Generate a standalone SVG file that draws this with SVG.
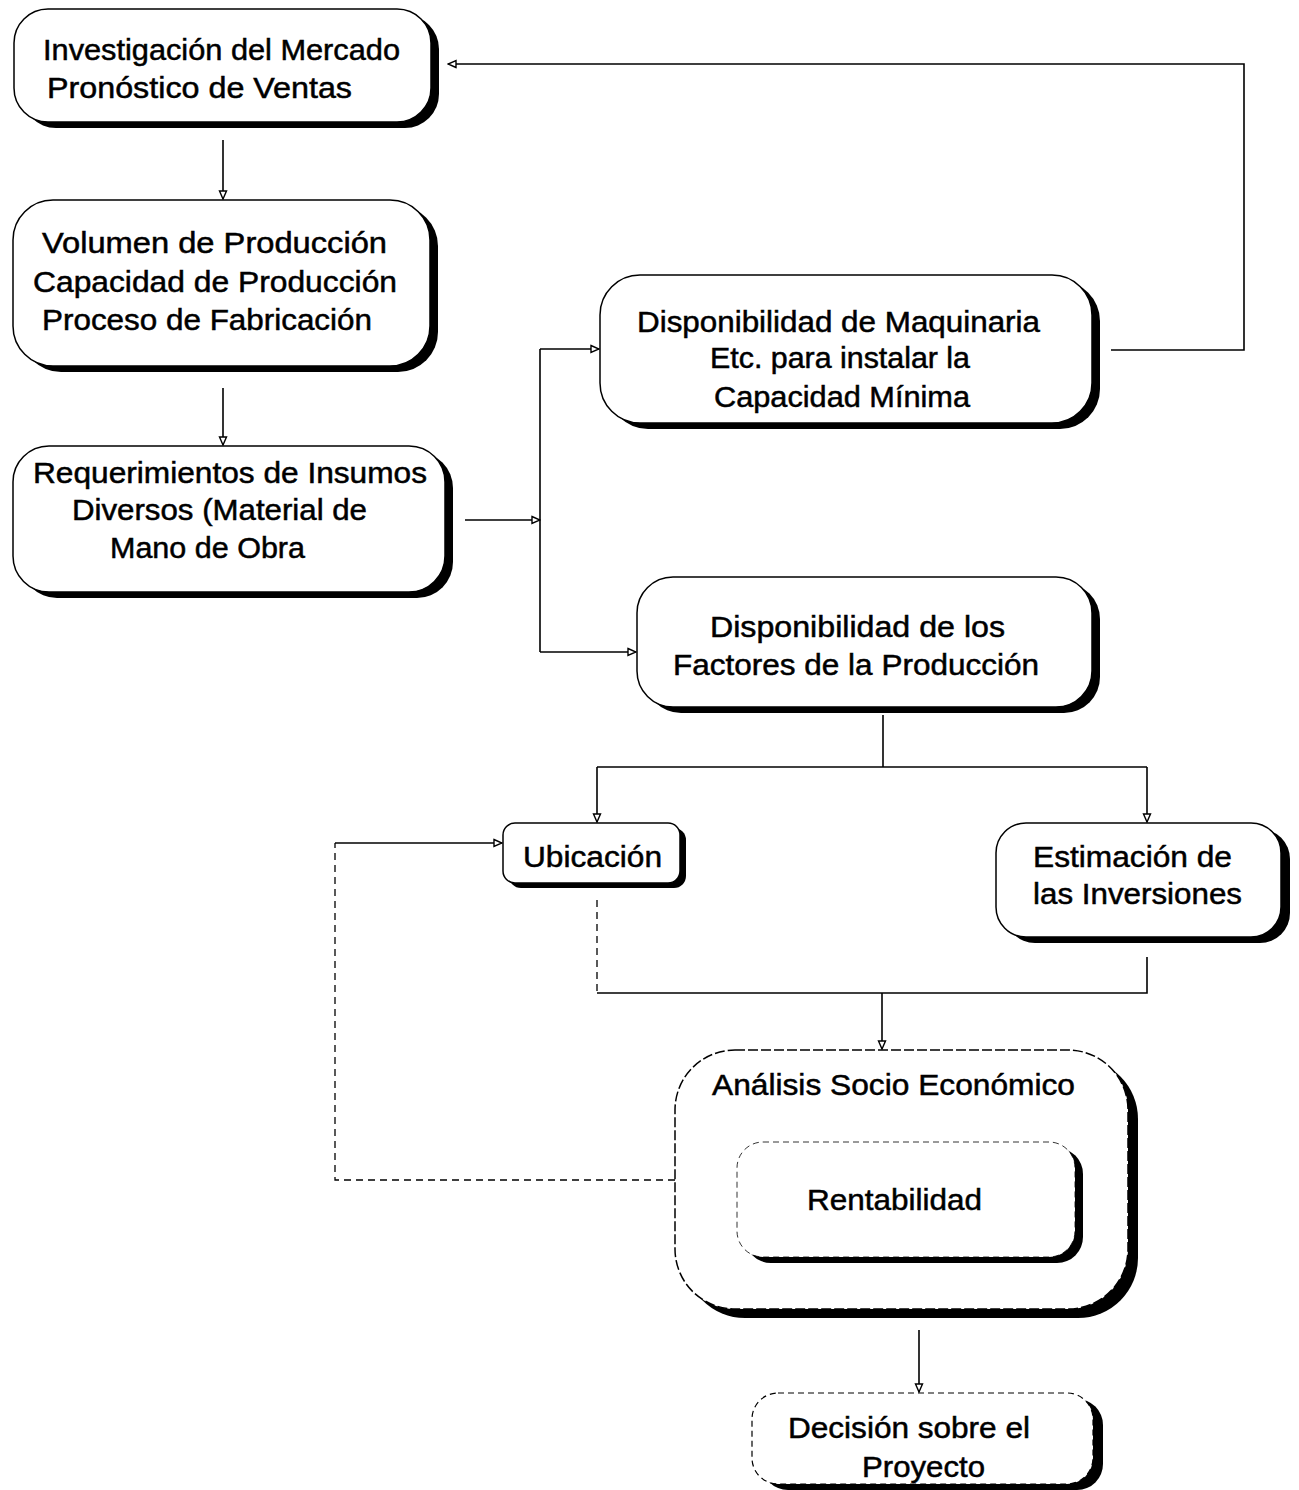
<svg xmlns="http://www.w3.org/2000/svg" width="1299" height="1490" viewBox="0 0 1299 1490">
<style>
.bg{fill:#fff}
.sh{fill:#000}
.box{fill:#fff;stroke:#000;stroke-width:1.5}
.dbox{fill:#fff;stroke:#000;stroke-width:1.2;stroke-dasharray:6 4}
.t{font-family:"Liberation Sans",Arial,sans-serif;font-size:29px;fill:#000;stroke:#000;stroke-width:0.5}
.ln{fill:none;stroke:#000;stroke-width:1.6}
.dl{fill:none;stroke:#000;stroke-width:1.3;stroke-dasharray:7 5}
.ar{marker-end:url(#arr)}
</style>
<defs>
<marker id="arr" viewBox="0 0 10 10" refX="9" refY="5" markerWidth="10" markerHeight="10" markerUnits="userSpaceOnUse" orient="auto">
<path d="M1,1.5 L9,5 L1,8.5 Z" fill="#fff" stroke="#000" stroke-width="1.4"/>
</marker>
</defs>
<rect class="bg" x="0" y="0" width="1299" height="1490"/>

<g id="connectors">
<path class="ln ar" d="M223,140 L223,199"/>
<path class="ln ar" d="M223,388 L223,445"/>
<path class="ln ar" d="M465,520 L540,520"/>
<path class="ln" d="M540,349 L540,652"/>
<path class="ln ar" d="M540,349 L599,349"/>
<path class="ln ar" d="M540,652 L636,652"/>
<path class="ln ar" d="M1111,350 L1244,350 L1244,64 L448,64"/>
<path class="ln" d="M883,715 L883,767"/>
<path class="ln" d="M597,767 L1147,767"/>
<path class="ln ar" d="M597,767 L597,822"/>
<path class="ln ar" d="M1147,767 L1147,822"/>
<path class="dl" d="M675,1180 L335,1180 L335,843"/>
<path class="ln ar" d="M335,843 L502,843"/>
<path class="dl" d="M597,900 L597,993"/>
<path class="ln" d="M597,993 L1147,993 L1147,957"/>
<path class="ln ar" d="M882,993 L882,1049"/>
<path class="ln ar" d="M919,1330 L919,1392"/>
</g>

<g id="n1">
<rect class="sh" x="22" y="15" width="417" height="113" rx="34"/>
<rect class="box" x="14" y="9" width="417" height="113" rx="34"/>
<text class="t" x="43" y="60" textLength="357" lengthAdjust="spacingAndGlyphs">Investigación del Mercado</text>
<text class="t" x="47" y="98" textLength="305" lengthAdjust="spacingAndGlyphs">Pronóstico de Ventas</text>
</g>

<g id="n2">
<rect class="sh" x="21" y="206" width="417" height="166" rx="40"/>
<rect class="box" x="13" y="200" width="417" height="166" rx="40"/>
<text class="t" x="42" y="253" textLength="345" lengthAdjust="spacingAndGlyphs">Volumen de Producción</text>
<text class="t" x="33" y="292" textLength="364" lengthAdjust="spacingAndGlyphs">Capacidad de Producción</text>
<text class="t" x="42" y="330" textLength="330" lengthAdjust="spacingAndGlyphs">Proceso de Fabricación</text>
</g>

<g id="n3">
<rect class="sh" x="21" y="452" width="432" height="146" rx="36"/>
<rect class="box" x="13" y="446" width="432" height="146" rx="36"/>
<text class="t" x="33" y="483" textLength="394" lengthAdjust="spacingAndGlyphs">Requerimientos de Insumos</text>
<text class="t" x="72" y="520" textLength="295" lengthAdjust="spacingAndGlyphs">Diversos (Material de</text>
<text class="t" x="110" y="558" textLength="195" lengthAdjust="spacingAndGlyphs">Mano de Obra</text>
</g>

<g id="n4">
<rect class="sh" x="608" y="281" width="492" height="148" rx="40"/>
<rect class="box" x="600" y="275" width="492" height="148" rx="40"/>
<text class="t" x="637" y="332" textLength="403" lengthAdjust="spacingAndGlyphs">Disponibilidad de Maquinaria</text>
<text class="t" x="710" y="368" textLength="260" lengthAdjust="spacingAndGlyphs">Etc. para instalar la</text>
<text class="t" x="714" y="407" textLength="256" lengthAdjust="spacingAndGlyphs">Capacidad Mínima</text>
</g>

<g id="n5">
<rect class="sh" x="645" y="583" width="455" height="130" rx="36"/>
<rect class="box" x="637" y="577" width="455" height="130" rx="36"/>
<text class="t" x="710" y="637" textLength="295" lengthAdjust="spacingAndGlyphs">Disponibilidad de los</text>
<text class="t" x="673" y="675" textLength="366" lengthAdjust="spacingAndGlyphs">Factores de la Producción</text>
</g>

<g id="n6">
<rect class="sh" x="509" y="828" width="177" height="60" rx="12"/>
<rect class="box" x="503" y="823" width="177" height="60" rx="12"/>
<text class="t" x="523" y="867" textLength="139" lengthAdjust="spacingAndGlyphs">Ubicación</text>
</g>

<g id="n7">
<rect class="sh" x="1005" y="829" width="285" height="114" rx="30"/>
<rect class="box" x="996" y="823" width="285" height="114" rx="30"/>
<text class="t" x="1033" y="867" textLength="199" lengthAdjust="spacingAndGlyphs">Estimación de</text>
<text class="t" x="1033" y="904" textLength="209" lengthAdjust="spacingAndGlyphs">las Inversiones</text>
</g>

<g id="n8">
<rect class="sh" x="685" y="1059" width="453" height="259" rx="60"/>
<rect class="box" x="675" y="1050" width="453" height="259" rx="60" style="stroke-dasharray:10 3"/>
<text class="t" x="712" y="1095" textLength="363" lengthAdjust="spacingAndGlyphs">Análisis Socio Económico</text>
</g>

<g id="n9">
<rect class="sh" x="745" y="1148" width="338" height="115" rx="26"/>
<rect class="dbox" x="737" y="1142" width="338" height="115" rx="26" style="stroke-width:0.8"/>
<text class="t" x="807" y="1210" textLength="175" lengthAdjust="spacingAndGlyphs">Rentabilidad</text>
</g>

<g id="n10">
<rect class="sh" x="762" y="1399" width="341" height="91" rx="26"/>
<rect class="dbox" x="752" y="1393" width="341" height="91" rx="26"/>
<text class="t" x="788" y="1438" textLength="242" lengthAdjust="spacingAndGlyphs">Decisión sobre el</text>
<text class="t" x="862" y="1477" textLength="123" lengthAdjust="spacingAndGlyphs">Proyecto</text>
</g>
</svg>
